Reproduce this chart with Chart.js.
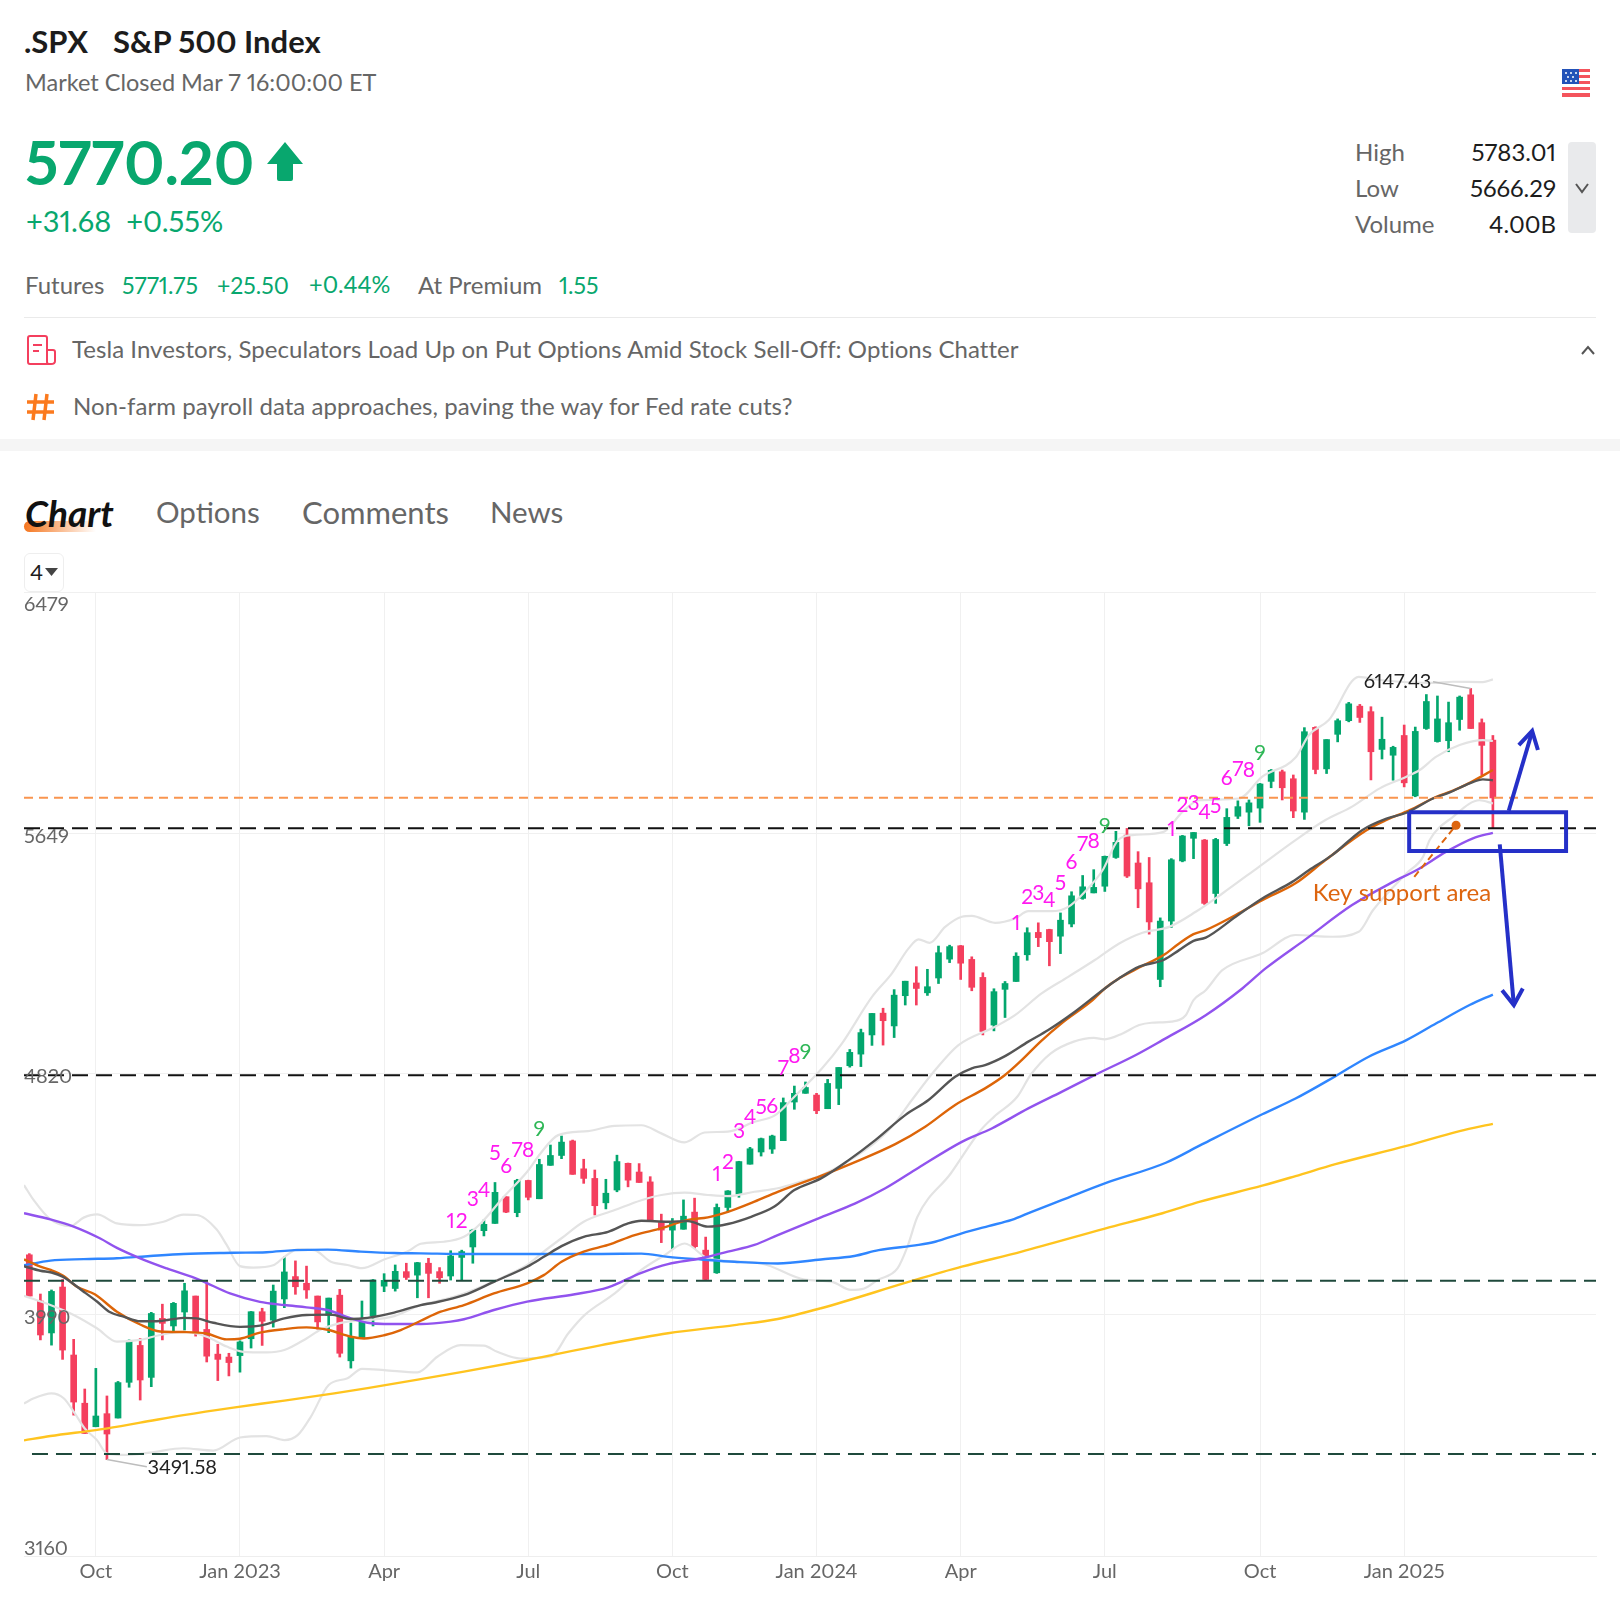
<!DOCTYPE html>
<html>
<head>
<meta charset="utf-8">
<title>.SPX S&amp;P 500 Index</title>
<script src="https://cdn.jsdelivr.net/npm/chart.js@4/dist/chart.umd.min.js"></script>
<style>
  html, body { margin: 0; padding: 0; background: #fff; }
  body { position: relative; width: 1620px; height: 1603px; overflow: hidden; font-family: "Lato", sans-serif; color: #666; font-variant-numeric: proportional-nums; }
  .t { position: absolute; white-space: nowrap; line-height: 1; transform: translateY(-50%); }
  .r { transform: translate(-100%, -50%); }
  .green { color: #08a76e; }
  .dark { color: #1c1c1c; }
  .abs { position: absolute; }
  canvas { position: absolute; left: 0; top: 560px; }
</style>
</head>
<body>
  <div class="t dark" style="left:24px;top:41px;font-size:31px;font-weight:700">.SPX</div>
  <div class="t dark" style="left:113px;top:41px;font-size:31px;font-weight:700">S&amp;P 500 Index</div>
  <div class="t" style="left:25px;top:83px;font-size:23.5px">Market Closed Mar 7 16:00:00 ET</div>

  <div class="t green" style="left:25px;top:161px;font-size:61px;font-weight:700">5770.20</div>
  <svg class="abs" style="left:266px;top:142px" width="38" height="40" viewBox="0 0 38 40"><path d="M19 0 L37 22 L27 22 L27 37 Q27 39 25 39 L13 39 Q11 39 11 37 L11 22 L1 22 Z" fill="#08a76e"/></svg>
  <div class="t green" style="left:26px;top:220px;font-size:29px">+31.68&nbsp; +0.55%</div>

  <div class="t" style="left:25px;top:285px;font-size:24px">Futures</div>
  <div class="t green" style="left:122px;top:285px;font-size:23px">5771.75</div>
  <div class="t green" style="left:217px;top:285px;font-size:23px">+25.50</div>
  <div class="t green" style="left:309px;top:285px;font-size:23.5px">+0.44%</div>
  <div class="t" style="left:418px;top:285px;font-size:24px">At Premium</div>
  <div class="t green" style="left:559px;top:285px;font-size:23px">1.55</div>

  <svg class="abs" style="left:1562px;top:69px" width="28" height="28" viewBox="0 0 28 28">
    <rect width="28" height="28" rx="2" fill="#fff"/>
    <g fill="#f4545c"><rect y="0" width="28" height="3"/><rect y="6" width="28" height="3"/><rect y="12" width="28" height="3"/><rect y="18" width="28" height="3"/><rect y="24" width="28" height="4"/></g>
    <rect width="17" height="15" fill="#2353b8"/>
    <g fill="#fff"><circle cx="4" cy="4" r="1"/><circle cx="9" cy="4" r="1"/><circle cx="14" cy="4" r="1"/><circle cx="6" cy="8" r="1"/><circle cx="11" cy="8" r="1"/><circle cx="4" cy="12" r="1"/><circle cx="9" cy="12" r="1"/><circle cx="14" cy="12" r="1"/></g>
  </svg>

  <div class="t" style="left:1355px;top:152px;font-size:24px">High</div>
  <div class="t" style="left:1355px;top:188px;font-size:24px">Low</div>
  <div class="t" style="left:1355px;top:224px;font-size:24px">Volume</div>
  <div class="t r dark" style="left:1556px;top:152px;font-size:24px">5783.01</div>
  <div class="t r dark" style="left:1556px;top:188px;font-size:24px">5666.29</div>
  <div class="t r dark" style="left:1556px;top:224px;font-size:24px">4.00B</div>
  <div class="abs" style="left:1568px;top:142px;width:28px;height:91px;background:#e9eaec;border-radius:4px"></div>
  <svg class="abs" style="left:1574px;top:181px" width="16" height="14" viewBox="0 0 16 14"><path d="M2 3 L8 11 L14 3" fill="none" stroke="#555" stroke-width="2"/></svg>

  <div class="abs" style="left:24px;top:317px;width:1572px;height:1px;background:#eaeaea"></div>
  <svg class="abs" style="left:26px;top:335px" width="30" height="30" viewBox="0 0 30 30">
    <path d="M2 3 Q2 1 4 1 L19 1 Q21 1 21 3 L21 27 Q21 29 23 29 L4 29 Q2 29 2 27 Z M21 15 L27 15 Q29 15 29 17 L29 26 Q29 29 25 29 L23 29" fill="none" stroke="#f43f5e" stroke-width="2"/>
    <path d="M7 10 L16 10 M7 16 L13 16" stroke="#f43f5e" stroke-width="2"/>
  </svg>
  <div class="t" style="left:72px;top:349px;font-size:24px;letter-spacing:0.05px">Tesla Investors, Speculators Load Up on Put Options Amid Stock Sell-Off: Options Chatter</div>
  <svg class="abs" style="left:1580px;top:344px" width="16" height="12" viewBox="0 0 16 12"><path d="M2 10 L8 3 L14 10" fill="none" stroke="#555" stroke-width="2"/></svg>

  <svg class="abs" style="left:26px;top:393px" width="29" height="28" viewBox="0 0 29 28"><path d="M10 1 L7 27 M21 1 L18 27 M1 9 L28 9 M1 19 L28 19" stroke="#fb7a1e" stroke-width="3.5" fill="none"/></svg>
  <div class="t" style="left:73px;top:406px;font-size:24px;letter-spacing:0.05px">Non-farm payroll data approaches, paving the way for Fed rate cuts?</div>

  <div class="abs" style="left:0;top:439px;width:1620px;height:12px;background:#f5f5f5"></div>

  <div class="abs" style="left:24px;top:521px;width:72px;height:11px;border-radius:6px 0 0 6px;background:linear-gradient(90deg,#f5761f,rgba(245,118,31,0))"></div>
  <div class="t" style="left:25px;top:512px;font-size:37px;font-weight:700;font-style:italic;color:#111">Chart</div>
  <div class="t" style="left:156px;top:512px;font-size:29.5px">Options</div>
  <div class="t" style="left:302px;top:512px;font-size:31px">Comments</div>
  <div class="t" style="left:490px;top:512px;font-size:29.5px">News</div>

  <div class="abs" style="left:24px;top:553px;width:38px;height:37px;border:1px solid #eee;border-radius:6px;background:#fff;z-index:2"></div>
  <div class="t dark" style="left:30px;top:572px;font-size:22px;z-index:3">4</div>
  <svg class="abs" style="left:45px;top:568px;z-index:3" width="13" height="8" viewBox="0 0 13 8"><path d="M0 0 L13 0 L6.5 8 Z" fill="#444"/></svg>

  <canvas id="myChart" width="1620" height="1043"></canvas>

<script>
// Weekly candles
const opens = [4197,4038,3928,4086,3852,3686,3605,3650,3635,3758,
  3885,3775,3978,3952,4000,4055,3940,3855,3845,3850,
  3908,4001,3972,4045,4122,4099,4055,3988,4058,3832,
  3912,3986,4089,4081,4139,4127,4168,4139,4124,4188,
  4224,4280,4305,4397,4342,4453,4390,4505,4539,4589,
  4493,4460,4376,4420,4512,4482,4448,4308,4282,4285,
  4344,4213,4135,4360,4406,4509,4551,4561,4590,4723,
  4753,4747,4700,4770,4848,4888,4954,5029,4985,5089,
  5133,5099,5150,5215,5261,5214,5152,4988,5111,5138,
  5230,5307,5317,5294,5336,5424,5443,5466,5565,5642,
  5546,5478,5145,5346,5553,5631,5625,5441,5613,5707,
  5721,5735,5827,5860,5836,5721,6013,5870,5989,6036,
  6086,6067,5937,5917,5985,5777,6009,5964,5967,6040,
  6125,6029,5969];
const highs = [4201,4062,4076,4112,3906,3735,3806,3711,3761,3904,
  3909,3999,4027,4033,4099,4055,4104,3889,3858,3901,
  4002,4013,4093,4190,4176,4158,4055,4048,4078,3962,
  4038,4112,4132,4162,4168,4171,4185,4153,4211,4213,
  4285,4317,4446,4397,4457,4454,4526,4575,4606,4592,
  4526,4489,4457,4540,4513,4511,4466,4337,4322,4386,
  4392,4258,4372,4418,4519,4567,4599,4609,4737,4778,
  4792,4753,4801,4842,4904,4974,5028,5046,5110,5139,
  5189,5180,5260,5263,5262,5223,5168,5113,5138,5237,
  5323,5340,5318,5374,5447,5503,5523,5570,5655,5665,
  5585,5565,5357,5561,5641,5651,5627,5631,5733,5760,
  5763,5820,5868,5866,5849,6012,6015,5971,6042,6099,
  6092,6084,6048,5948,6021,6014,6126,6121,6100,6121,
  6147,6042,5985];
const lows = [4055,3904,3886,3837,3645,3582,3605,3492,3635,3741,
  3697,3743,3904,3932,3938,3917,3828,3764,3780,3793,
  3876,3885,3948,4015,4061,4047,3941,3929,3845,3807,
  3912,3952,4070,4072,4112,4049,4049,4099,4110,4110,
  4168,4262,4305,4342,4328,4386,4390,4505,4528,4474,
  4443,4334,4355,4414,4431,4446,4314,4239,4216,4285,
  4219,4110,4133,4344,4395,4509,4537,4546,4590,4698,
  4753,4683,4700,4714,4843,4845,4918,4919,4945,5057,
  5057,5090,5131,5203,5145,5106,4954,4968,5014,5138,
  5211,5258,5192,5234,5326,5421,5443,5448,5562,5496,
  5392,5301,5120,5324,5550,5561,5403,5407,5606,5699,
  5674,5686,5805,5763,5702,5696,5853,5854,5963,6032,
  6030,5832,5904,5831,5808,5774,6006,5962,5929,6003,
  6009,5849,5666];
const closes = [4055,3921,4071,3869,3690,3582,3642,3580,3757,3900,
  3766,3995,3961,4030,4073,3927,3848,3837,3826,3897,
  4001,3968,4072,4138,4087,4076,3966,4048,3858,3915,
  3972,4110,4109,4140,4119,4170,4133,4118,4193,4208,
  4282,4302,4412,4344,4453,4395,4508,4539,4585,4474,
  4460,4366,4409,4518,4454,4446,4317,4282,4308,4330,
  4225,4112,4360,4417,4518,4562,4597,4606,4721,4753,
  4773,4693,4787,4842,4894,4962,5028,5003,5091,5139,
  5114,5120,5237,5258,5201,5118,4966,5103,5131,5225,
  5306,5289,5275,5349,5433,5464,5462,5569,5617,5501,
  5457,5343,5346,5557,5639,5651,5407,5627,5703,5740,
  5753,5818,5865,5805,5725,5998,5868,5971,6036,6094,
  6047,5929,5972,5944,5822,5999,6102,6042,6029,6117,
  6009,5951,5770];

// Axis ticks: x is the candle number
const xMin = -0.48;
const xMax = 141.3;
const xTickIndex = [6, 19, 32, 45, 58, 71, 84, 97, 111, 124];
const xTickLabels = ["Oct", "Jan 2023", "Apr", "Jul", "Oct", "Jan 2024", "Apr", "Jul", "Oct", "Jan 2025"];
const yTicks = [3160, 3990, 4820, 5649, 6479];

// Moving averages and bands as [candle number, price]
const maGrey = [[-0.48,4158],[1,4142],[2,4136],[3,4122],[4.9,4070],[6.1,4036],[7.3,3999],[8.5,3984],[10,3968],[11.8,3969],[13.9,3980],[15.1,3978],[16.6,3963],[19,3949],[20.8,3953],[23,3978],[25,3990],[27.2,3991],[29,3976],[30.5,3980],[32.9,3998],[35.3,4024],[36.5,4032],[39.2,4058],[41.9,4104],[44.9,4156],[46.4,4190],[48,4227],[50,4259],[52.2,4276],[54,4305],[55.2,4314],[57.6,4311],[59.4,4313],[61.2,4294],[63,4303],[65.1,4328],[67.2,4363],[69,4420],[71.4,4460],[73.9,4523],[76.3,4592],[79,4678],[81.1,4730],[83.5,4810],[85,4839],[86.2,4850],[88,4881],[90.1,4931],[91.9,4971],[94.3,5034],[97,5114],[98.3,5149],[100.1,5189],[102.3,5212],[103.7,5246],[105,5278],[106.1,5289],[108.8,5361],[111.2,5424],[113.9,5481],[115.4,5521],[117.5,5573],[120.2,5659],[122.4,5699],[124.2,5719],[126.6,5768],[128.1,5789],[129.9,5820],[131.1,5834],[132,5831]];
const maOrange = [[-0.48,4181],[1,4156],[2,4144],[3.1,4124],[4.3,4087],[5.9,4061],[7.9,4001],[10,3957],[11.8,3933],[13.9,3931],[16,3926],[17.8,3906],[19,3908],[20.8,3929],[23,3941],[25,3947],[27,3938],[29,3915],[30.2,3909],[32,3920],[33.5,3938],[35.3,3970],[37.1,4001],[39.2,4024],[41.9,4064],[44.9,4099],[46.4,4127],[48,4173],[50,4208],[52.2,4231],[54.6,4265],[57,4288],[59.4,4317],[61.2,4326],[63,4345],[65.4,4380],[67.5,4414],[71.4,4469],[74.2,4512],[78.1,4578],[80.8,4638],[83.5,4713],[86.2,4770],[88,4816],[89.5,4867],[91.2,4931],[93.1,4994],[95.9,5074],[97,5114],[98.3,5149],[100.1,5186],[102.3,5229],[103.7,5269],[105,5301],[106.1,5315],[108.8,5367],[111.2,5418],[114.2,5476],[116.9,5556],[120.6,5659],[122.4,5694],[124.5,5728],[126.9,5774],[128.4,5795],[129.9,5822],[132,5866]];
const maPurple = [[-0.48,4340],[1.9,4319],[4,4294],[6.4,4253],[7.9,4221],[10,4185],[12.4,4150],[15.4,4110],[18.1,4064],[20.8,4035],[23,4024],[25,4016],[26.9,4007],[29,3978],[30.5,3963],[32,3959],[35.3,3959],[38,3967],[39.2,3975],[41.9,4007],[44.9,4036],[49.2,4061],[52.2,4085],[55.2,4135],[57.6,4165],[60.6,4185],[63,4208],[65.4,4231],[67.5,4265],[71.4,4326],[74.5,4374],[77.2,4426],[80.2,4497],[84.1,4586],[86.8,4632],[90.1,4701],[93.1,4758],[96.1,4816],[99.8,4885],[102.2,4936],[106.1,5022],[109.4,5114],[111.5,5183],[115.1,5283],[119.3,5401],[123,5481],[125.1,5521],[127.8,5585],[130.2,5631],[132,5650]];
const maBlue = [[-0.48,4161],[1.9,4177],[4.9,4182],[7.9,4185],[10.9,4193],[13.9,4200],[18.4,4204],[21.4,4206],[23.9,4213],[26.9,4215],[29.9,4208],[32.9,4203],[35.3,4202],[39.5,4200],[45.5,4200],[51.6,4200],[55.2,4201],[57.6,4190],[60.6,4181],[63.6,4173],[67.5,4167],[71.4,4181],[74.4,4193],[76.6,4213],[80.2,4231],[81.7,4242],[84.1,4271],[86.5,4296],[88.6,4317],[90.4,4345],[93.1,4385],[97,4443],[102.5,4514],[105.8,4578],[111.2,4681],[114.2,4735],[117.8,4812],[120.8,4879],[124.2,4936],[126.9,4994],[129.9,5057],[132,5093]];
const maYellow = [[-0.48,3558],[1.9,3573],[6.4,3596],[10,3619],[13.9,3645],[18.4,3671],[23,3695],[27.5,3720],[30.5,3738],[35.3,3769],[39.2,3795],[44.9,3835],[51.6,3886],[57.6,3927],[63.6,3955],[67.5,3976],[71.4,4013],[79.6,4107],[84.1,4156],[89.5,4208],[97,4287],[102.2,4340],[105.6,4380],[111.2,4435],[114.2,4468],[117.8,4509],[124.2,4572],[129,4623],[132,4648]];
const bandUpper = [[-0.48,4437],[0.4,4385],[1.9,4319],[3.7,4296],[4.9,4325],[6.1,4336],[7.9,4305],[10,4299],[12.1,4311],[13.9,4335],[15.1,4334],[16.9,4284],[17.8,4231],[19,4158],[20.2,4153],[22,4161],[23,4190],[24.2,4216],[25.7,4213],[27.2,4173],[28.7,4162],[30,4151],[32,4181],[34.1,4208],[35.3,4235],[37.4,4242],[39.2,4259],[40.7,4305],[42.8,4397],[44.9,4483],[46.1,4546],[47.7,4609],[50.4,4623],[52.8,4641],[55.2,4643],[57,4615],[59.1,4584],[60.9,4618],[63,4621],[65.4,4655],[67.2,4676],[69,4741],[71.5,4839],[73.3,4925],[76,5085],[77.8,5166],[79.3,5252],[80.2,5283],[81.2,5271],[82.6,5326],[84.1,5361],[85,5364],[87.1,5340],[88.9,5355],[90.1,5380],[92.2,5380],[93.7,5395],[95.2,5447],[96.8,5521],[98.2,5625],[99.5,5642],[102.3,5653],[104,5722],[105.5,5762],[109.1,5768],[111.2,5843],[114.2,5909],[115.4,5986],[117.2,6038],[119.9,6187],[121.8,6176],[126.6,6166],[128.4,6170],[131.1,6169],[132,6178]];
const bandMid = [[-0.48,4056],[1.9,4024],[4,3990],[6.1,3944],[7.9,3898],[10,3904],[11.8,3921],[13.9,3932],[16,3915],[17.8,3881],[19.3,3863],[21.4,3861],[23,3869],[25,3909],[26.3,3940],[28.7,3967],[30.5,3972],[32.9,3986],[35.3,4024],[36.5,4035],[39.2,4064],[43.1,4127],[44.9,4162],[46.4,4208],[48,4254],[50,4311],[52.8,4351],[55.2,4385],[57,4403],[59.1,4411],[61.2,4403],[63,4399],[65.4,4414],[67.5,4426],[69.6,4449],[71.5,4472],[75.4,4558],[77.8,4638],[79.6,4730],[81.7,4833],[83.8,4919],[87.1,4982],[88.9,5022],[91.3,5097],[93.7,5154],[96.1,5212],[98.3,5269],[100.4,5306],[102.8,5326],[105.2,5378],[107.6,5441],[110.9,5533],[114.2,5625],[116.9,5694],[119.3,5740],[121.8,5803],[124.2,5843],[125.4,5866],[126.9,5912],[129,5952],[131.1,5969],[132,5966]];
const bandLower = [[-0.48,3685],[0.4,3703],[2,3720],[3.1,3703],[4.1,3651],[5,3599],[6.1,3559],[7,3513],[8.5,3508],[10.9,3516],[13.9,3531],[16.6,3523],[19,3568],[21.4,3573],[23,3559],[24.2,3576],[25.4,3640],[27,3749],[28.7,3772],[30,3804],[32,3800],[35,3792],[36.8,3846],[38.9,3886],[41,3884],[42.2,3863],[44.3,3840],[47.1,3848],[48.6,3926],[50.1,3990],[52.8,4064],[55.2,4145],[57.3,4196],[59.1,4236],[61.2,4185],[66,4167],[69.9,4112],[72.4,4104],[74.1,4076],[75.3,4081],[76.5,4110],[78.3,4150],[79.2,4225],[80.1,4328],[83.1,4477],[85.8,4626],[87,4672],[89.1,4741],[90.3,4816],[92.1,4890],[94.2,4931],[96,4944],[97,4939],[98.6,4959],[100.1,4988],[101.2,4996],[103,5000],[104.3,5022],[105,5074],[106.1,5108],[107.6,5177],[111.2,5235],[114.2,5298],[117.5,5292],[119.9,5309],[121.2,5384],[124.2,5510],[125.7,5567],[126.3,5625],[128.4,5705],[130.8,5762],[132,5751]];

// Horizontal levels
const levelPrice = 5770.2;
const levelBlack = [5666, 4815];
const levelGreen = [4108, 3511];

// TD count labels: first candle of each run, then the label's price
const tdStart = [38, 62, 89, 103];
const tdPrices = [
  [4311,4311,4389,4420,4548,4503,4558,4558,4630],
  [4475,4517,4623,4670,4704,4709,4839,4881,4894],
  [5340,5427,5441,5418,5476,5550,5610,5622,5673],
  [5661,5745,5751,5720,5740,5837,5869,5866,5924],
];

// Hand drawn notes on top of the chart
const supportBox = [[124.45,5721],[138.6,5721],[138.6,5587],[124.45,5587],[124.45,5721]];
const arrowUp = [[133.43,5726],[135.54,5998]];
const arrowUpHead = [[134.34,5952],[135.54,6001],[136.06,5935]];
const arrowDown = [[132.62,5610],[133.89,5057]];
const arrowDownHead = [[132.83,5108],[133.89,5057],[134.7,5114]];
const noteLine = [[124.91,5498],[128.68,5676]];
const highNote = { text: "6147.43", x: 123.4, y: 6172, from: [[130,6147],[126.6,6170]] };
const lowNote = { text: "3491.58", x: 13.8, y: 3466, from: [[7,3492],[10.6,3467]] };
const supportNote = { text: "Key support area", x: 123.8, y: 5441 };

const GREEN = "#03a66d";
const RED = "#f43f5e";
const BLUE_NOTE = "#2530c8";
const ORANGE_NOTE = "#dd650f";

const toPoints = (pairs) => pairs.map((p) => ({ x: p[0], y: p[1] }));

const lineSet = (pairs, color, width, order, extra) => ({
  type: "line",
  data: toPoints(pairs),
  borderColor: color,
  borderWidth: width,
  pointRadius: 0,
  order,
  ...extra,
});

const smooth = { cubicInterpolationMode: "monotone" };

const levelSet = (price, color, dash, fromX, order) =>
  lineSet([[fromX, price], [xMax, price]], color, 2, order, { borderDash: dash });

const candleColors = closes.map((c, i) => (c >= opens[i] ? GREEN : RED));

const datasets = [
  // notes
  lineSet(supportBox, BLUE_NOTE, 4, 0),
  lineSet(arrowUp, BLUE_NOTE, 4, 0),
  lineSet(arrowUpHead, BLUE_NOTE, 4, 0),
  lineSet(arrowDown, BLUE_NOTE, 4, 0),
  lineSet(arrowDownHead, BLUE_NOTE, 4, 0),
  lineSet(noteLine, ORANGE_NOTE, 2, 1, { borderDash: [7, 4] }),
  lineSet([noteLine[1]], ORANGE_NOTE, 2, 1, { pointRadius: 4.5, pointBackgroundColor: ORANGE_NOTE, pointBorderWidth: 0 }),
  lineSet(highNote.from, "#bdbdbd", 1.5, 1),
  lineSet(lowNote.from, "#bdbdbd", 1.5, 1),
  // levels
  levelSet(levelPrice, "#f9954f", [9, 6], xMin, 2),
  levelSet(levelBlack[0], "#111111", [16, 8], xMin, 2),
  levelSet(levelBlack[1], "#111111", [16, 8], xMin, 2),
  levelSet(levelGreen[0], "#1f4a3c", [16, 8], xMin, 2),
  levelSet(levelGreen[1], "#1f4a3c", [16, 8], 0.24, 2),
  // moving averages
  lineSet(maGrey, "#555555", 2.4, 3, smooth),
  lineSet(maOrange, "#dd6508", 2.4, 4, smooth),
  lineSet(maPurple, "#9153ee", 2.4, 5, smooth),
  lineSet(maBlue, "#2f86ff", 2.4, 6, smooth),
  lineSet(maYellow, "#ffc41f", 2.4, 7, smooth),
  // bands
  lineSet(bandUpper, "#e3e3e3", 2.2, 8, smooth),
  lineSet(bandMid, "#e3e3e3", 2.2, 8, smooth),
  lineSet(bandLower, "#e3e3e3", 2.2, 8, smooth),
  // candles
  {
    type: "bar",
    data: opens.map((o, i) => ({ x: i, y: [o, closes[i]] })),
    backgroundColor: candleColors,
    barThickness: 6,
    grouped: false,
    order: 9,
  },
  {
    type: "bar",
    data: highs.map((h, i) => ({ x: i, y: [lows[i], h] })),
    backgroundColor: candleColors,
    barThickness: 2,
    grouped: false,
    order: 10,
  },
];

// Writes the labels sitting on the candles, placed with the chart's scales
const chartLabels = {
  id: "chartLabels",
  afterDatasetsDraw(chart) {
    const { ctx, scales } = chart;
    const put = (text, x, y, color, font) => {
      ctx.fillStyle = color;
      ctx.font = font;
      ctx.textAlign = "center";
      ctx.textBaseline = "middle";
      ctx.fillText(text, scales.x.getPixelForValue(x), scales.y.getPixelForValue(y));
    };
    ctx.save();
    tdStart.forEach((start, run) => {
      tdPrices[run].forEach((price, n) => {
        const color = n === 8 ? "#2fb757" : "#ff19f0";
        put(String(n + 1), start + n, price, color, "21px Lato, sans-serif");
      });
    });
    put(highNote.text, highNote.x, highNote.y, "#222", "20px Lato, sans-serif");
    put(lowNote.text, lowNote.x, lowNote.y, "#222", "20px Lato, sans-serif");
    put(supportNote.text, supportNote.x, supportNote.y, ORANGE_NOTE, "24px Lato, sans-serif");
    ctx.restore();
  },
};

new Chart(document.getElementById("myChart"), {
  data: { datasets },
  plugins: [chartLabels],
  options: {
    responsive: false,
    animation: false,
    events: [],
    layout: { padding: { left: 24, right: 24, top: 32, bottom: 0 } },
    plugins: { legend: { display: false }, tooltip: { enabled: false } },
    scales: {
      x: {
        type: "linear",
        offset: false,
        min: xMin,
        max: xMax,
        afterBuildTicks: (axis) => {
          axis.ticks = xTickIndex.map((value) => ({ value }));
        },
        afterFit: (axis) => {
          axis.height = 47;
        },
        grid: { color: "#f0f0f0", drawTicks: false, lineWidth: 1, offset: false },
        border: { color: "#eeeeee" },
        ticks: {
          color: "#666",
          font: { family: "Lato, sans-serif", size: 20 },
          maxRotation: 0,
          autoSkip: false,
          padding: 4,
          callback: (value) => xTickLabels[xTickIndex.indexOf(value)],
        },
      },
      y: {
        min: 3160,
        max: 6479,
        afterBuildTicks: (axis) => {
          axis.ticks = yTicks.map((value) => ({ value }));
        },
        grid: { color: "#f0f0f0", drawTicks: false, lineWidth: 1 },
        border: { display: false },
        ticks: {
          mirror: true,
          padding: 0,
          labelOffset: 3,
          z: 1,
          color: "#666",
          font: { family: "Lato, sans-serif", size: 20, lineHeight: 1 },
          autoSkip: false,
          // top and bottom labels sit inside the plot, hence the blank line
          callback: (value) => {
            if (value === yTicks[yTicks.length - 1]) return ["", String(value)];
            if (value === yTicks[0]) return [String(value), ""];
            return String(value);
          },
        },
      },
    },
  },
});
</script>
</body>
</html>
